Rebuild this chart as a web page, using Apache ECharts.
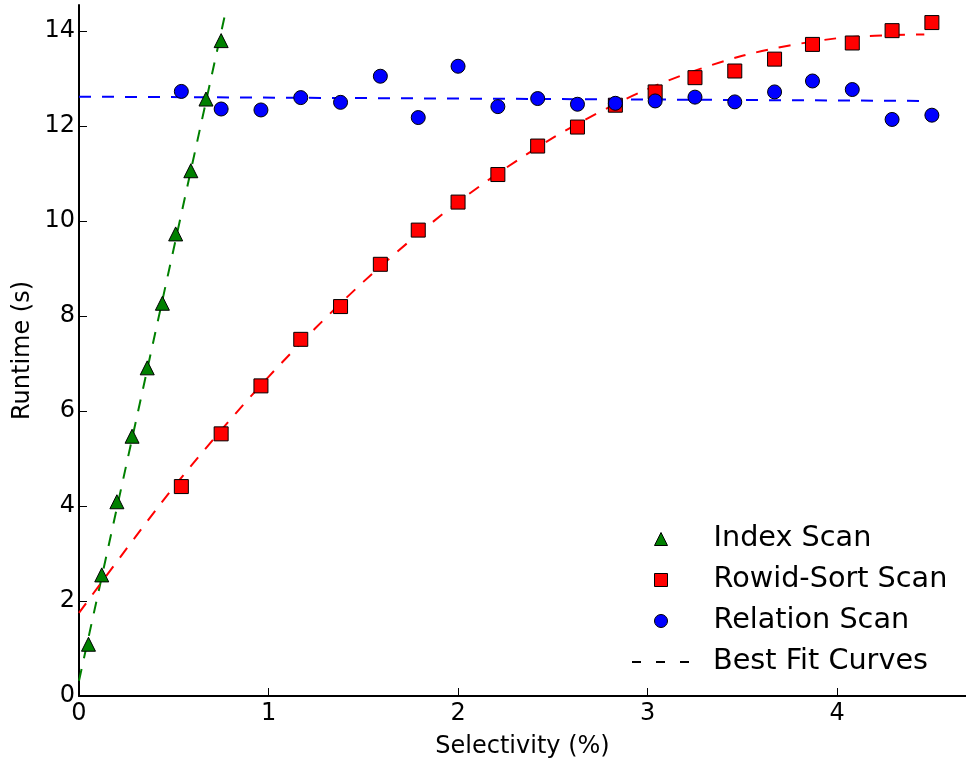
<!DOCTYPE html>
<html>
<head>
<meta charset="utf-8">
<title>Runtime vs Selectivity</title>
<script src="https://cdn.jsdelivr.net/npm/echarts@6/dist/echarts.min.js"></script>
<style>
  html, body { margin: 0; padding: 0; background: #fff; }
  #chart { width: 966px; height: 759px; }
</style>
</head>
<body>
<div id="chart"></div>
<script>
    // index scan runs
    let indexX = [0.05, 0.12, 0.2, 0.28, 0.36, 0.44, 0.51, 0.59, 0.67, 0.75]
    let indexY = [1.09, 2.55, 4.09, 5.47, 6.91, 8.27, 9.73, 11.06, 12.57, 13.80]
    // rowid-sort and relation scans were run at the same selectivities
    let scanX = [0.54, 0.75, 0.96, 1.17, 1.38, 1.59, 1.79, 2.0, 2.21, 2.42,
                 2.63, 2.83, 3.04, 3.25, 3.46, 3.67, 3.87, 4.08, 4.29, 4.5]
    let rowidY = [4.41, 5.52, 6.53, 7.51, 8.20, 9.09, 9.81, 10.40, 10.98, 11.58,
                  11.98, 12.44, 12.72, 13.02, 13.16, 13.41, 13.72, 13.75, 14.01, 14.18]
    let relationY = [12.73, 12.36, 12.34, 12.60, 12.50, 13.05, 12.18, 13.26, 12.41, 12.58,
                     12.46, 12.48, 12.53, 12.61, 12.51, 12.72, 12.95, 12.77, 12.14, 12.23]

    // best fit curves
    let indexFitX = [0, 0.77]
    let indexFitY = [0.32, 14.34]
    let rowidFitX = [0, 0.5, 1, 1.5, 2, 2.5, 3, 3.5, 4, 4.46]
    let rowidFitY = [1.75, 4.40, 6.72, 8.72, 10.40, 11.75, 12.78, 13.48, 13.85, 13.93]
    let relationFitX = [0, 4.48]
    let relationFitY = [12.62, 12.53]

    let xTicks = [0, 1, 2, 3, 4]
    let yTicks = [0, 2, 4, 6, 8, 10, 12, 14]

    let font = 'DejaVu Sans'

    function pairs(xs, ys) {
        return xs.map(function (x, i) { return [x, ys[i]] })
    }

    function scatter(name, symbol, color, xs, ys, z) {
        return {
            name: name,
            type: 'scatter',
            symbol: symbol,
            symbolSize: 14,
            z: z,
            itemStyle: { color: color, borderColor: '#000', borderWidth: 1, opacity: 1 },
            data: pairs(xs, ys)
        }
    }

    function fit(name, color, xs, ys, smooth) {
        return {
            name: name,
            type: 'line',
            showSymbol: false,
            symbol: 'none',
            smooth: smooth,
            silent: true,
            z: 1,
            lineStyle: { color: color, width: 2, type: [12, 11] },
            data: pairs(xs, ys)
        }
    }

    let axisCommon = {
        type: 'value',
        nameLocation: 'middle',
        nameMoveOverlap: false,
        nameTextStyle: { fontFamily: font, fontSize: 24, color: '#000', lineHeight: 29 },
        axisLine: { show: true, onZero: false, lineStyle: { color: '#000', width: 2 } },
        axisTick: { show: true, inside: true, length: 8, lineStyle: { color: '#000', width: 1 } },
        axisLabel: { fontFamily: font, fontSize: 24, color: '#000' },
        splitLine: { show: false }
    }

    let chart = echarts.init(document.getElementById('chart'))
    chart.setOption({
        animation: false,
        backgroundColor: '#fff',
        grid: { left: 79, right: 0, top: 5, bottom: 63, containLabel: false, outerBoundsMode: 'none' },
        xAxis: Object.assign({}, axisCommon, {
            name: 'Selectivity (%)',
            nameGap: 36,
            min: 0,
            max: 4.68,
            interval: 1,
            axisTick: Object.assign({}, axisCommon.axisTick, { customValues: xTicks }),
            axisLabel: Object.assign({}, axisCommon.axisLabel, { margin: 6, customValues: xTicks })
        }),
        yAxis: Object.assign({}, axisCommon, {
            name: 'Runtime (s)',
            nameGap: 42,
            min: 0,
            max: 14.55,
            interval: 2,
            axisTick: Object.assign({}, axisCommon.axisTick, { customValues: yTicks }),
            axisLabel: Object.assign({}, axisCommon.axisLabel, { margin: 4, customValues: yTicks })
        }),
        legend: [
            {
                orient: 'vertical',
                left: 654,
                top: 524,
                padding: 0,
                itemWidth: 13,
                itemHeight: 13,
                itemGap: 11,
                selectedMode: false,
                textStyle: { fontFamily: font, fontSize: 28.7, color: '#000', lineHeight: 30, padding: [0, 0, 0, 41] },
                data: [
                    { name: 'Index Scan', icon: 'triangle', itemStyle: { color: '#008000', borderColor: '#000', borderWidth: 1 } },
                    { name: 'Rowid-Sort Scan', icon: 'rect', itemStyle: { color: '#ff0000', borderColor: '#000', borderWidth: 1 } },
                    { name: 'Relation Scan', icon: 'circle', itemStyle: { color: '#0000ff', borderColor: '#000', borderWidth: 1 } }
                ]
            },
            {
                orient: 'vertical',
                left: 632,
                top: 647,
                padding: 0,
                itemWidth: 57,
                itemHeight: 2,
                selectedMode: false,
                textStyle: { fontFamily: font, fontSize: 28.7, color: '#000', lineHeight: 30, padding: [0, 0, 0, 19] },
                data: [
                    { name: 'Best Fit Curves', icon: 'path://M0,0h9v2h-9z M24,0h9v2h-9z M48,0h9v2h-9z', itemStyle: { color: '#000', borderWidth: 0 } }
                ]
            }
        ],
        series: [
            fit('indexFit', '#008000', indexFitX, indexFitY, false),
            fit('rowidFit', '#ff0000', rowidFitX, rowidFitY, 0.3),
            fit('relationFit', '#0000ff', relationFitX, relationFitY, false),
            {
                name: 'Best Fit Curves',
                type: 'line',
                data: [],
                itemStyle: { color: '#000' },
                lineStyle: { color: '#000', type: 'dashed' }
            },
            scatter('Index Scan', 'triangle', '#008000', indexX, indexY, 3),
            scatter('Rowid-Sort Scan', 'rect', '#ff0000', scanX, rowidY, 4),
            scatter('Relation Scan', 'circle', '#0000ff', scanX, relationY, 5)
        ]
    })

    window.addEventListener('resize', function () {
        chart.resize()
    })
</script>
</body>
</html>
